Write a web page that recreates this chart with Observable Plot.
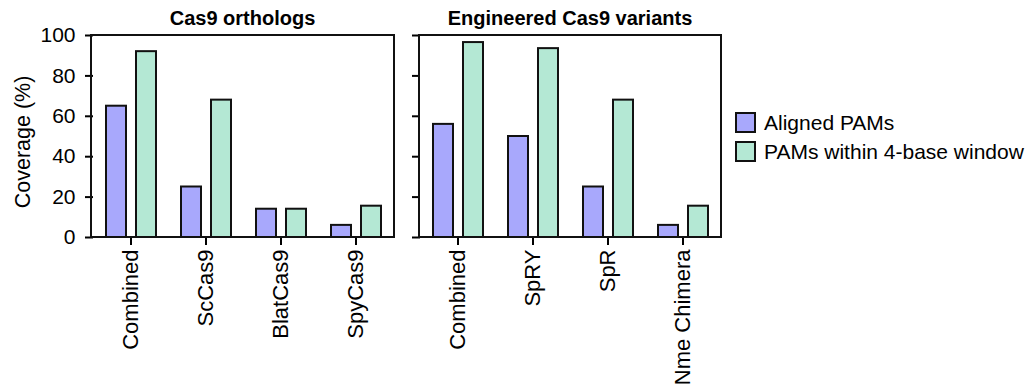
<!DOCTYPE html>
<html>
<head>
<meta charset="utf-8">
<script src="https://cdn.jsdelivr.net/npm/d3@7"></script>
<script src="https://cdn.jsdelivr.net/npm/@observablehq/plot@0.6"></script>
<style>
  html, body { margin: 0; padding: 0; background: #fff; }
  body { width: 1033px; height: 386px; position: relative; overflow: hidden;
         font-family: "Liberation Sans", Arial, sans-serif; }
  .panel { position: absolute; top: 0; }
  .panel svg g[aria-label="y-axis tick label"] text { font-size: 21px; }
  .panel svg g[aria-label="fx-axis tick label"] text { font-size: 22px; }
  .panel svg text.ttl { font-size: 20px; font-weight: bold; }
  .panel svg text.ylab { font-size: 21.5px; }
  .legend { position: absolute; left: 735px; top: 108px; font-size: 21px; color: #000; }
  .legend .item { display: flex; align-items: center; height: 29px; }
  .legend .sw { width: 21px; height: 21px; box-sizing: border-box; border: 2px solid #111; margin-right: 8px; }
</style>
</head>
<body>
<div id="p1" class="panel" style="left:0px"></div>
<div id="p2" class="panel" style="left:395px"></div>
<div id="legend" class="legend"></div>
<script>
// ---- data ----
const seriesNames = ["Aligned PAMs", "PAMs within 4-base window"];
const seriesColors = ["#a8a8fc", "#b4e8d4"];
const yTicks = [0, 20, 40, 60, 80, 100];

const orthologTitle = "Cas9 orthologs";
const orthologCategories = ["Combined", "ScCas9", "BlatCas9", "SpyCas9"];
const orthologAligned = [65, 25, 14, 6];
const orthologWindow = [92, 68, 14, 15.5];

const variantTitle = "Engineered Cas9 variants";
const variantCategories = ["Combined", "SpRY", "SpR", "Nme Chimera"];
const variantAligned = [56, 50, 25, 6];
const variantWindow = [96.5, 93.5, 68, 15.5];

const yLabel = "Coverage (%)";

function rows(cats, a, w) {
  const out = [];
  cats.forEach((c, i) => {
    out.push({category: c, series: seriesNames[0], value: a[i]});
    out.push({category: c, series: seriesNames[1], value: w[i]});
  });
  return out;
}

const FONT = "Liberation Sans, Arial, sans-serif";
const H = 386, MT = 35, MB = 149;

function panel(cats, a, w, title, opts) {
  const data = rows(cats, a, w);
  const plot = Plot.plot({
    width: opts.width,
    height: H,
    marginLeft: opts.marginLeft,
    marginRight: opts.marginRight,
    marginTop: MT,
    marginBottom: MB,
    style: {fontFamily: FONT, fontSize: "21px", color: "#000", background: "transparent", overflow: "visible"},
    fx: {domain: cats, padding: 0},
    x: {domain: seriesNames, paddingInner: 0.35, paddingOuter: 0.4, axis: null},
    y: {domain: [0, 100]},
    color: {domain: seriesNames, range: seriesColors},
    marks: [
      Plot.barY(data, {fx: "category", x: "series", y: "value", fill: "series", stroke: "#111", strokeWidth: 2}),
      Plot.axisY({ticks: yTicks, tickSize: 8, tickPadding: 10, strokeWidth: 2, fontSize: 21, label: null,
                  tickFormat: opts.showYLabels ? (d) => String(d) : () => ""}),
      Plot.axisFx({anchor: "bottom", tickRotate: -90, tickSize: 8, tickPadding: 4, strokeWidth: 2, fontSize: 22, label: null})
    ]
  });
  const svg = d3.select(plot);
  const y = plot.scale("y");
  const x0 = opts.marginLeft, x1 = opts.width - opts.marginRight;
  const yTop = y.apply(100), yBot = y.apply(0);
  svg.append("rect")
    .attr("x", x0).attr("y", yTop)
    .attr("width", x1 - x0).attr("height", yBot - yTop)
    .attr("fill", "none").attr("stroke", "#111").attr("stroke-width", 2);
  svg.append("text")
    .attr("class", "ttl")
    .attr("x", (x0 + x1) / 2).attr("y", 25)
    .attr("text-anchor", "middle")
    .attr("font-family", FONT)
    .attr("fill", "#000")
    .text(title);
  if (opts.showYLabels) {
    svg.append("text")
      .attr("class", "ylab")
      .attr("transform", `translate(30,${(yTop + yBot) / 2 + 6}) rotate(-90)`)
      .attr("text-anchor", "middle")
      .attr("font-family", FONT).attr("fill", "#000")
      .text(yLabel);
  }
  return plot;
}

document.getElementById("p1").append(
  panel(orthologCategories, orthologAligned, orthologWindow, orthologTitle,
        {width: 395, marginLeft: 91, marginRight: 1, showYLabels: true}));
document.getElementById("p2").append(
  panel(variantCategories, variantAligned, variantWindow, variantTitle,
        {width: 328, marginLeft: 24, marginRight: 2, showYLabels: false}));

const legend = d3.select("#legend");
seriesNames.forEach((s, i) => {
  const item = legend.append("div").attr("class", "item");
  item.append("div").attr("class", "sw").style("background", seriesColors[i]);
  item.append("span").text(s);
});
</script>
</body>
</html>
